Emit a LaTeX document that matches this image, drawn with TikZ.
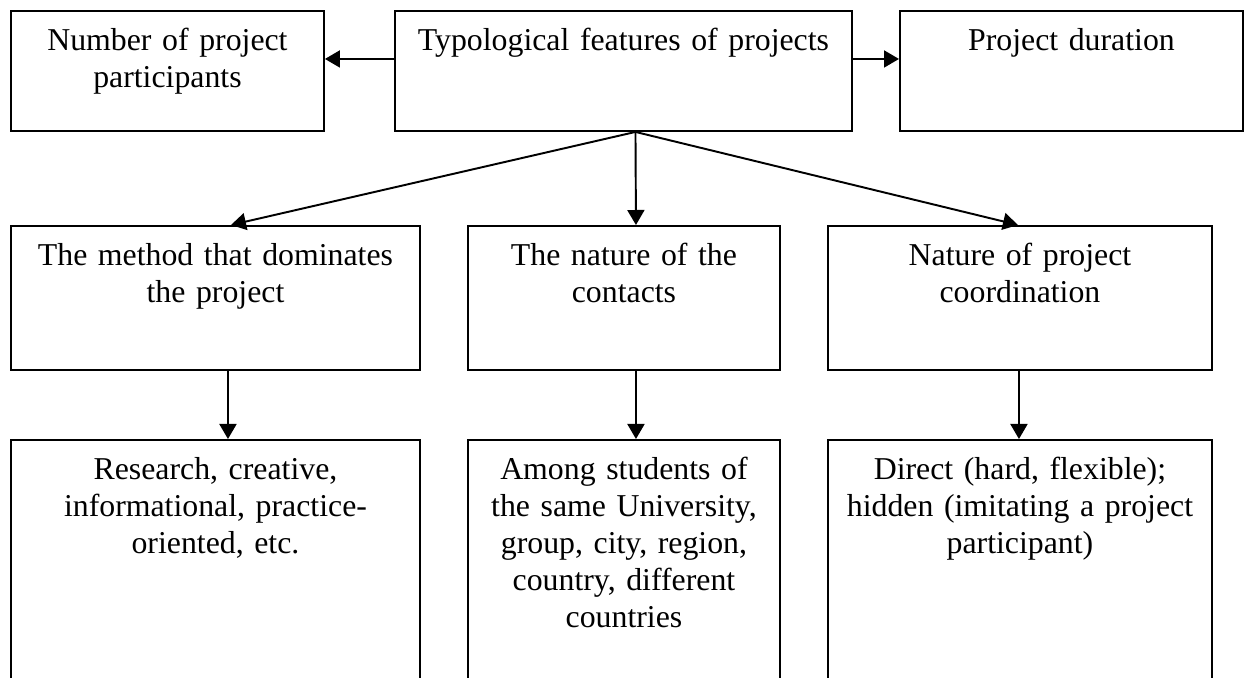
\documentclass[tikz,border=0pt]{standalone}
\usepackage{fontspec}
\setmainfont{Liberation Serif}
\usetikzlibrary{arrows.meta, positioning}

\begin{document}
\begin{tikzpicture}[x=0.2mm, y=-0.2mm, every node/.style={font=\fontsize{18.1}{21}\selectfont}, align=center,
  box/.style={draw, line width=1.1pt, anchor=north west, inner sep=0pt, text height=0.8cm},
  conn/.style={-{Triangle[length=3mm, width=3.4mm]}, line width=1.1pt}]
  \useasboundingbox (0,0) rectangle (1245,678);

  \node (typ) [box, text width=9.14cm, text depth=1.6cm] at (394,10) {Typological features of projects};
  \node (part) [box, text width=6.26cm, text depth=1.6cm] at (10,10) {Number of project\\participants};
  \node (dur) [box, text width=6.86cm, text depth=1.6cm] at (899,10) {Project duration};

  \node (meth) [box, text width=8.18cm, text depth=2.08cm] at (10,225) {The method that dominates\\the project};
  \node (cont) [box, text width=6.24cm, text depth=2.08cm] at (467,225) {The nature of the\\contacts};
  \node (coord) [box, text width=7.68cm, text depth=2.08cm] at (827,225) {Nature of project\\coordination};

  \node (methex) [box, text width=8.18cm, text depth=4.02cm] at (10,439) {Research, creative,\\informational, practice-\\oriented, etc.};
  \node (contex) [box, text width=6.24cm, text depth=4.02cm] at (467,439) {Among students of\\the same University,\\group, city, region,\\country, different\\countries};
  \node (coordex) [box, text width=7.68cm, text depth=4.02cm] at (827,439) {Direct (hard, flexible);\\hidden (imitating a project\\participant)};

  \draw [conn] ([yshift=0.24cm]typ.west) -- ([yshift=0.24cm]part.east);
  \draw [conn] ([yshift=0.24cm]typ.east) -- ([yshift=0.24cm]dur.west);
  \draw [conn] ([xshift=0.24cm]typ.south) -- ([xshift=0.31cm]meth.north);
  \draw [conn] ([xshift=0.24cm]typ.south) -- ([xshift=0.24cm]cont.north);
  \draw [conn] ([xshift=0.24cm]typ.south) -- ([xshift=-0.04cm]coord.north);
  \draw [conn] ([xshift=0.25cm]meth.south) -- ([xshift=0.25cm]methex.north);
  \draw [conn] ([xshift=0.24cm]cont.south) -- ([xshift=0.24cm]contex.north);
  \draw [conn] ([xshift=-0.02cm]coord.south) -- ([xshift=-0.02cm]coordex.north);
\end{tikzpicture}
\end{document}
